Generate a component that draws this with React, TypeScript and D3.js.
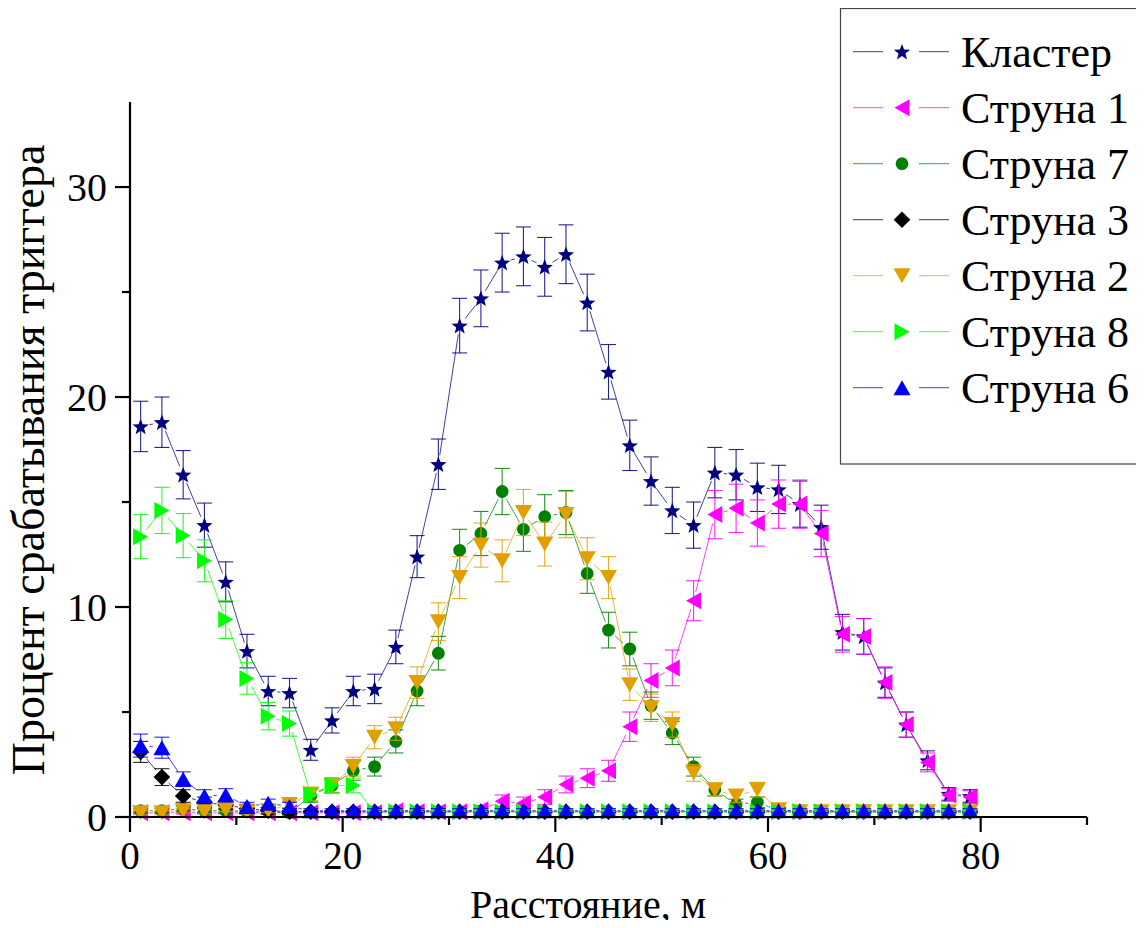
import React from 'react';
import * as d3 from 'd3';

const distances = [1, 3, 5, 7, 9, 11, 13, 15, 17, 19, 21, 23, 25, 27, 29, 31, 33, 35, 37, 39, 41, 43, 45, 47, 49, 51, 53, 55, 57, 59, 61, 63, 65, 67, 69, 71, 73, 75, 77, 79];

const clusterValues = [18.6, 18.8, 16.3, 13.9, 11.2, 7.9, 6.0, 5.9, 3.2, 4.6, 6.0, 6.1, 8.1, 12.4, 16.8, 23.4, 24.7, 26.4, 26.7, 26.2, 26.8, 24.5, 21.2, 17.7, 16.0, 14.6, 13.9, 16.4, 16.3, 15.7, 15.6, 14.9, 13.8, 8.8, 8.6, 6.4, 4.4, 2.7, 1.1, 1.0];
const clusterErrors = [1.2, 1.2, 1.15, 1.05, 0.95, 0.8, 0.7, 0.7, 0.5, 0.6, 0.7, 0.7, 0.8, 1.0, 1.2, 1.3, 1.35, 1.4, 1.4, 1.4, 1.4, 1.35, 1.3, 1.2, 1.15, 1.1, 1.1, 1.2, 1.2, 1.15, 1.15, 1.1, 1.05, 0.85, 0.85, 0.7, 0.6, 0.45, 0.3, 0.3];

const string1Values = [0.2, 0.2, 0.2, 0.2, 0.2, 0.2, 0.2, 0.2, 0.2, 0.2, 0.2, 0.2, 0.3, 0.25, 0.25, 0.25, 0.35, 0.75, 0.65, 0.95, 1.55, 1.85, 2.2, 4.3, 6.5, 7.1, 10.3, 14.4, 14.7, 14.0, 14.9, 14.9, 13.5, 8.7, 8.6, 6.4, 4.4, 2.6, 1.05, 0.95];
const string1Errors = [0.05, 0.05, 0.05, 0.05, 0.05, 0.05, 0.05, 0.05, 0.05, 0.05, 0.05, 0.05, 0.15, 0.1, 0.1, 0.1, 0.2, 0.3, 0.3, 0.35, 0.4, 0.45, 0.5, 0.7, 0.8, 0.85, 0.95, 1.15, 1.15, 1.1, 1.15, 1.15, 1.1, 0.85, 0.85, 0.75, 0.6, 0.45, 0.3, 0.3];

const string7Values = [0.3, 0.3, 0.4, 0.3, 0.3, 0.25, 0.25, 0.2, 1.0, 1.5, 2.2, 2.4, 3.6, 6.0, 7.8, 12.7, 13.5, 15.5, 13.7, 14.3, 14.5, 11.6, 8.9, 8.0, 5.3, 4.0, 2.4, 1.3, 0.6, 0.7, 0.3, 0.25, 0.25, 0.25, 0.25, 0.25, 0.25, 0.25, 0.25, 0.25];
const string7Errors = [0.1, 0.1, 0.1, 0.1, 0.1, 0.1, 0.1, 0.1, 0.3, 0.35, 0.45, 0.45, 0.55, 0.7, 0.8, 1.0, 1.05, 1.1, 1.05, 1.05, 1.05, 0.95, 0.85, 0.8, 0.65, 0.55, 0.45, 0.3, 0.25, 0.25, 0.15, 0.1, 0.1, 0.1, 0.1, 0.1, 0.1, 0.1, 0.1, 0.1];

const string3Values = [3.1, 1.9, 1.0, 0.7, 0.57, 0.4, 0.3, 0.25, 0.25, 0.25, 0.25, 0.25, 0.25, 0.25, 0.25, 0.25, 0.25, 0.25, 0.25, 0.25, 0.25, 0.25, 0.25, 0.25, 0.25, 0.25, 0.25, 0.25, 0.25, 0.25, 0.25, 0.25, 0.25, 0.25, 0.25, 0.25, 0.25, 0.25, 0.25, 0.25];
const string3Errors = [0.5, 0.4, 0.3, 0.25, 0.2, 0.2, 0.15, 0.15, 0.05, 0.05, 0.05, 0.05, 0.05, 0.05, 0.05, 0.05, 0.05, 0.05, 0.05, 0.05, 0.05, 0.05, 0.05, 0.05, 0.05, 0.05, 0.05, 0.05, 0.05, 0.05, 0.05, 0.05, 0.05, 0.05, 0.05, 0.05, 0.05, 0.05, 0.05, 0.05];

const string2Values = [0.2, 0.2, 0.3, 0.25, 0.35, 0.25, 0.3, 0.6, 1.1, 1.5, 2.4, 3.8, 4.2, 6.4, 9.3, 11.4, 12.95, 12.2, 14.5, 13.0, 14.4, 12.3, 11.4, 6.3, 5.2, 4.4, 2.1, 1.3, 1.0, 1.3, 0.35, 0.25, 0.25, 0.25, 0.25, 0.25, 0.25, 0.25, 0.25, 0.25];
const string2Errors = [0.1, 0.1, 0.1, 0.1, 0.1, 0.1, 0.1, 0.15, 0.3, 0.35, 0.45, 0.55, 0.55, 0.75, 0.9, 1.0, 1.05, 1.0, 1.1, 1.05, 1.1, 1.0, 1.0, 0.75, 0.65, 0.6, 0.4, 0.3, 0.3, 0.35, 0.15, 0.1, 0.1, 0.1, 0.1, 0.1, 0.1, 0.1, 0.1, 0.1];

const string8Values = [13.35, 14.6, 13.4, 12.2, 9.4, 6.6, 4.8, 4.45, 1.05, 1.5, 1.5, 0.25, 0.25, 0.25, 0.25, 0.25, 0.25, 0.25, 0.25, 0.25, 0.25, 0.25, 0.25, 0.25, 0.25, 0.25, 0.25, 0.25, 0.25, 0.25, 0.25, 0.25, 0.25, 0.25, 0.25, 0.25, 0.25, 0.25, 0.25, 0.25];
const string8Errors = [1.05, 1.1, 1.05, 1.0, 0.9, 0.75, 0.65, 0.6, 0.3, 0.35, 0.35, 0.1, 0.1, 0.1, 0.1, 0.1, 0.1, 0.1, 0.1, 0.1, 0.1, 0.1, 0.1, 0.1, 0.1, 0.1, 0.1, 0.1, 0.1, 0.1, 0.1, 0.1, 0.1, 0.1, 0.1, 0.1, 0.1, 0.1, 0.1, 0.1];

const string6Values = [3.4, 3.3, 1.8, 1.0, 1.05, 0.5, 0.65, 0.5, 0.3, 0.3, 0.3, 0.3, 0.3, 0.3, 0.3, 0.3, 0.3, 0.3, 0.3, 0.3, 0.3, 0.3, 0.3, 0.3, 0.3, 0.3, 0.3, 0.3, 0.3, 0.3, 0.3, 0.3, 0.3, 0.3, 0.3, 0.3, 0.3, 0.3, 0.3, 0.3];
const string6Errors = [0.55, 0.5, 0.35, 0.3, 0.3, 0.2, 0.2, 0.2, 0.1, 0.1, 0.1, 0.1, 0.1, 0.1, 0.1, 0.1, 0.1, 0.1, 0.1, 0.1, 0.1, 0.1, 0.1, 0.1, 0.1, 0.1, 0.1, 0.1, 0.1, 0.1, 0.1, 0.1, 0.1, 0.1, 0.1, 0.1, 0.1, 0.1, 0.1, 0.1];

const seriesNames = ['Кластер', 'Струна 1', 'Струна 7', 'Струна 3', 'Струна 2', 'Струна 8', 'Струна 6'];
const seriesColors = ['#000080', '#FF00FF', '#008000', '#000000', '#E1A000', '#00FF00', '#0000FF'];
const seriesShapes = ['star', 'left', 'circle', 'diamond', 'down', 'right', 'up'];

const xTicks = [0, 20, 40, 60, 80];
const xMinorTicks = [10, 30, 50, 70, 90];
const yTicks = [0, 10, 20, 30];
const yMinorTicks = [5, 15, 25];

const xTitle = 'Расстояние, м';
const yTitle = 'Процент срабатывания триггера';

const W = 1144;
const H = 928;
const serif = { fontFamily: "'Liberation Serif'" };

const xScale = d3.scaleLinear().domain([0, 90]).range([130, 1087]);
const yScale = d3.scaleLinear().domain([0, 34.05]).range([817, 102]);

function markerPath(shape: string, cx: number, cy: number): string {
  const p = d3.path();
  if (shape === 'star') {
    const R = 8.6;
    const r = R * 0.42;
    for (let i = 0; i < 10; i++) {
      const a = -Math.PI / 2 + (i * Math.PI) / 5;
      const rr = i % 2 === 0 ? R : r;
      const px = cx + rr * Math.cos(a);
      const py = cy + rr * Math.sin(a) + 0.8;
      if (i === 0) p.moveTo(px, py);
      else p.lineTo(px, py);
    }
    p.closePath();
  } else if (shape === 'circle') {
    p.arc(cx, cy, 6.4, 0, Math.PI * 2);
  } else if (shape === 'diamond') {
    const s = 8.3;
    p.moveTo(cx, cy - s);
    p.lineTo(cx + s, cy);
    p.lineTo(cx, cy + s);
    p.lineTo(cx - s, cy);
    p.closePath();
  } else if (shape === 'up') {
    const w = 8.5, h = 7.5;
    p.moveTo(cx, cy - h);
    p.lineTo(cx + w, cy + h);
    p.lineTo(cx - w, cy + h);
    p.closePath();
  } else if (shape === 'down') {
    const w = 8.5, h = 7.5;
    p.moveTo(cx - w, cy - h);
    p.lineTo(cx + w, cy - h);
    p.lineTo(cx, cy + h);
    p.closePath();
  } else if (shape === 'left') {
    const w = 7.5, h = 8.5;
    p.moveTo(cx - w, cy);
    p.lineTo(cx + w, cy - h);
    p.lineTo(cx + w, cy + h);
    p.closePath();
  } else if (shape === 'right') {
    const w = 7.5, h = 8.5;
    p.moveTo(cx + w, cy);
    p.lineTo(cx - w, cy - h);
    p.lineTo(cx - w, cy + h);
    p.closePath();
  }
  return p.toString();
}

function gapSegments(pts: [number, number][], gap: number): string {
  const p = d3.path();
  for (let i = 0; i < pts.length - 1; i++) {
    const [x1, y1] = pts[i];
    const [x2, y2] = pts[i + 1];
    const dx = x2 - x1, dy = y2 - y1;
    const len = Math.hypot(dx, dy);
    if (len <= 2 * gap) continue;
    const ux = dx / len, uy = dy / len;
    p.moveTo(x1 + ux * gap, y1 + uy * gap);
    p.lineTo(x2 - ux * gap, y2 - uy * gap);
  }
  return p.toString();
}

const allValues = [clusterValues, string1Values, string7Values, string3Values, string2Values, string8Values, string6Values];
const allErrors = [clusterErrors, string1Errors, string7Errors, string3Errors, string2Errors, string8Errors, string6Errors];

export default function App() {
  const legendRowY = (i: number) => 51.7 + i * 56;
  return (
    <div style={{ margin: -8, fontFamily: "'Liberation Serif'" }}>
      <svg width={W} height={H} style={{ display: 'block' }}>
        <rect x={0} y={0} width={W} height={H} fill="#fff" />
        {allValues.map((vals, si) => {
          const color = seriesColors[si];
          const pts: [number, number][] = vals.map((v, i) => [xScale(distances[i]), yScale(v)]);
          const errs = allErrors[si];
          return (
            <g key={si}>
              <path d={gapSegments(pts, 9)} fill="none" stroke={color} strokeWidth={1} strokeOpacity={0.75} />
              {vals.map((v, i) => {
                const cx = xScale(distances[i]);
                const yt = yScale(v + errs[i]);
                const yb = yScale(v - errs[i]);
                return (
                  <g key={i} stroke={color} strokeWidth={1.1} strokeOpacity={0.85}>
                    <line x1={cx} x2={cx} y1={yt} y2={yb} />
                    <line x1={cx - 7.5} x2={cx + 7.5} y1={yt} y2={yt} />
                    <line x1={cx - 7.5} x2={cx + 7.5} y1={yb} y2={yb} />
                  </g>
                );
              })}
              {pts.map(([cx, cy], i) => (
                <path key={'m' + i} d={markerPath(seriesShapes[si], cx, cy)} fill={color} />
              ))}
            </g>
          );
        })}
        <g stroke="#000" strokeWidth={2.2} fill="none">
          <line x1={130} x2={130} y1={yScale(34.05)} y2={818} />
          <line x1={129} x2={xScale(90)} y1={817} y2={817} />
          {xTicks.map((t) => (
            <line key={'xt' + t} x1={xScale(t)} x2={xScale(t)} y1={817} y2={832} />
          ))}
          {xMinorTicks.map((t) => (
            <line key={'xm' + t} x1={xScale(t)} x2={xScale(t)} y1={817} y2={825} />
          ))}
          {yTicks.map((t) => (
            <line key={'yt' + t} x1={115} x2={130} y1={yScale(t)} y2={yScale(t)} />
          ))}
          {yMinorTicks.map((t) => (
            <line key={'ym' + t} x1={122} x2={130} y1={yScale(t)} y2={yScale(t)} />
          ))}
        </g>
        {xTicks.map((t) => (
          <text key={'xl' + t} x={xScale(t)} y={869} textAnchor="middle" fontSize={39} style={serif}>{t}</text>
        ))}
        {yTicks.map((t) => (
          <text key={'yl' + t} x={107} y={yScale(t) + 13.5} textAnchor="end" fontSize={40} style={serif}>{t}</text>
        ))}
        <text x={588} y={918} textAnchor="middle" fontSize={40} style={serif}>{xTitle}</text>
        <text transform="translate(44,460) rotate(-90)" textAnchor="middle" fontSize={46} style={serif}>{yTitle}</text>
        <rect x={840.5} y={8.5} width={298.5} height={455.5} fill="#fff" stroke="#444" strokeWidth={1.2} />
        {seriesNames.map((name, i) => {
          const ly = legendRowY(i);
          const color = seriesColors[i];
          return (
            <g key={'lg' + i}>
              <line x1={853} x2={883} y1={ly} y2={ly} stroke={color} strokeWidth={1} strokeOpacity={0.75} />
              <line x1={919} x2={949} y1={ly} y2={ly} stroke={color} strokeWidth={1} strokeOpacity={0.75} />
              <path d={markerPath(seriesShapes[i], 902, ly)} fill={color} />
              <text x={961} y={ly + 15} fontSize={44} style={serif}>{name}</text>
            </g>
          );
        })}
      </svg>
    </div>
  );
}
